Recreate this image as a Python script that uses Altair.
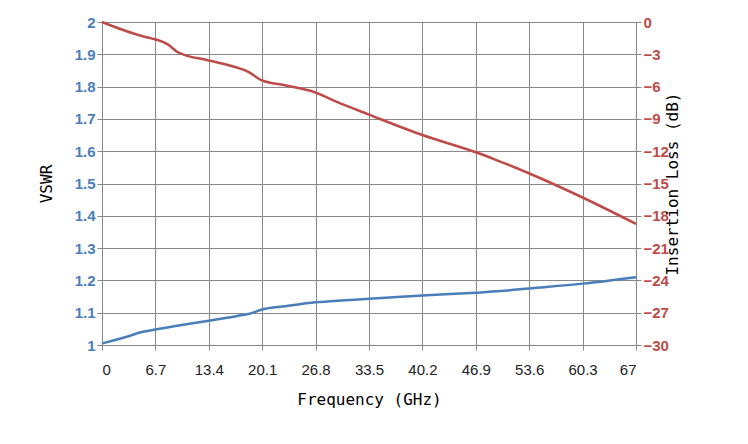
import altair as alt
import pandas as pd

vswr_freq = [0, 3, 5, 6.7, 10, 13.4, 17, 18.5, 20.1, 23, 26.8, 30, 33.5, 40.2, 46.9, 50, 53.6, 60.3, 67]
vswr_vals = [1.005, 1.025, 1.04, 1.048, 1.062, 1.075, 1.09, 1.097, 1.11, 1.12, 1.132, 1.138, 1.143,
             1.153, 1.162, 1.167, 1.175, 1.19, 1.21]

il_freq = [0, 5.0, 6.1, 8.3, 9.5, 10.5, 13, 16.8, 18.3, 20, 23.1, 26.6, 29.4, 33.5, 40.2, 46.9,
           49.4, 53.4, 60.3, 67]
il_vals = [0, -1.3, -1.5, -2.1, -2.8, -3.1, -3.5, -4.2, -4.6, -5.4, -5.9, -6.5, -7.4, -8.6, -10.5,
           -12.1, -12.8, -14.0, -16.3, -18.75]

freq_ticks = [0, 6.7, 13.4, 20.1, 26.8, 33.5, 40.2, 46.9, 53.6, 60.3, 67]

vswr_df = pd.DataFrame({"f": vswr_freq, "v": vswr_vals})
il_df = pd.DataFrame({"f": il_freq, "v": il_vals})

title_font = "DejaVu Sans Mono"
x_enc = alt.X("f:Q", scale=alt.Scale(domain=[0, 67], nice=False),
              axis=alt.Axis(values=freq_ticks, format=".1~f", title="Frequency (GHz)",
                            titleFont=title_font, titleFontSize=16, titleFontWeight="normal",
                            labelFontSize=15, labelFont="Liberation Sans", labelColor="#222",
                            gridColor="#888", domainColor="#888", tickColor="#888",
                            labelPadding=12, titlePadding=14)),

vswr = alt.Chart(vswr_df).mark_line(color="#4a7ebb", strokeWidth=2.5, interpolate="monotone").encode(
    x=x_enc[0],
    y=alt.Y("v:Q", scale=alt.Scale(domain=[1, 2], nice=False),
            axis=alt.Axis(values=[round(1 + i / 10, 1) for i in range(11)], format=".1~f",
                          title="VSWR", titleFont=title_font, titleFontSize=16, titleFontWeight="normal",
                          labelColor="#4a7ebb", labelFontWeight="bold", labelFontSize=15,
                          labelFont="Liberation Sans", gridColor="#888", domainColor="#888",
                          tickColor="#888", titlePadding=20)),
)

il = alt.Chart(il_df).mark_line(color="#be4b48", strokeWidth=2.5, interpolate="monotone").encode(
    x=x_enc[0],
    y=alt.Y("v:Q", scale=alt.Scale(domain=[-30, 0], nice=False),
            axis=alt.Axis(orient="right", values=list(range(-30, 1, 3)), title="Insertion Loss (dB)",
                          titleFont=title_font, titleFontSize=16, titleFontWeight="normal",
                          titleAngle=270, labelColor="#be4b48", labelFontWeight="bold",
                          labelFontSize=15, labelFont="Liberation Sans", grid=False,
                          domainColor="#888", tickColor="#888", titlePadding=12)),
)

chart = alt.layer(vswr, il).resolve_scale(y="independent").properties(
    width=534, height=323, padding={"left": 30, "top": 7, "right": 5, "bottom": 5}
).configure_view(stroke="#888")

chart.save("out.html", embed_options={"renderer": "svg", "actions": False})
